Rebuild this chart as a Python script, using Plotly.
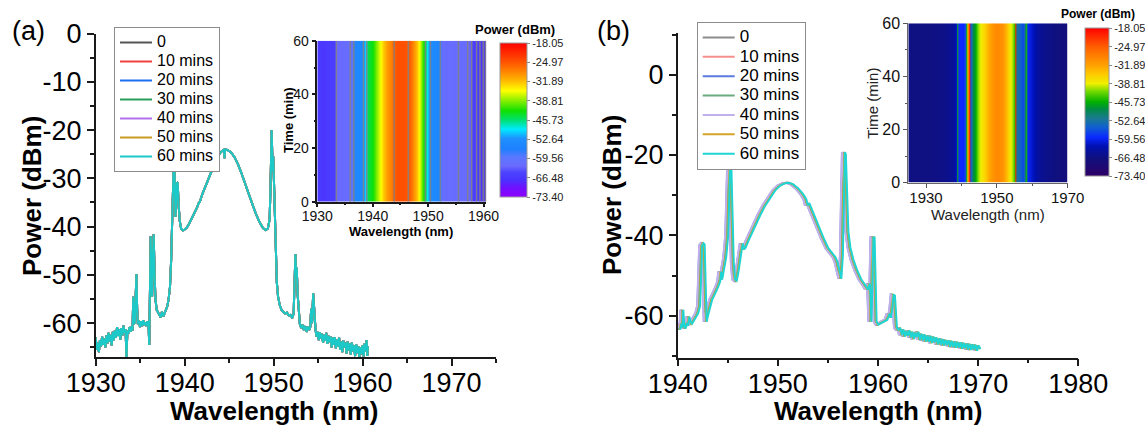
import plotly.graph_objects as go

W, H = 1145, 428
FONT = "Liberation Sans, Arial, sans-serif"

# ---------------- data ----------------
labels = ["0", "10 mins", "20 mins", "30 mins", "40 mins", "50 mins", "60 mins"]
colors_a = ["#555555", "#f04040", "#1a6ef0", "#2a9d5a", "#b070e8", "#c89a20", "#1cc8c8"]
colors_b = ["#8c8c8c", "#f4908c", "#5b7be0", "#6aab7e", "#c0b0ec", "#d4a528", "#1ed4d4"]
times = [0, 10, 20, 30, 40, 50, 60]

# panel (a) spectrum (all seven records overlap)
wl_a = [
    1930.00, 1930.12, 1930.24, 1930.36, 1930.48, 1930.60, 1930.72, 1930.84, 1930.96, 1931.08,
    1931.20, 1931.32, 1931.44, 1931.56, 1931.68, 1931.80, 1931.92, 1932.04, 1932.16, 1932.28,
    1932.40, 1932.52, 1932.64, 1932.76, 1932.88, 1933.00, 1933.12, 1933.24, 1933.36, 1933.46,
    1933.56, 1933.68, 1933.80, 1933.92, 1934.04, 1934.14, 1934.22, 1934.30, 1934.40, 1934.50,
    1934.58, 1934.66, 1934.74, 1934.86, 1934.98, 1935.10, 1935.22, 1935.34, 1935.46, 1935.58,
    1935.70, 1935.82, 1935.94, 1936.02, 1936.10, 1936.18, 1936.26, 1936.34, 1936.42, 1936.52,
    1936.62, 1936.72, 1936.85, 1937.00, 1937.15, 1937.30, 1937.45, 1937.60, 1937.75, 1937.90,
    1938.05, 1938.20, 1938.35, 1938.48, 1938.60, 1938.72, 1938.80, 1938.88, 1938.96, 1939.04,
    1939.14, 1939.22, 1939.32, 1939.45, 1939.60, 1939.80, 1940.00, 1940.25, 1940.50, 1940.80,
    1941.10, 1941.40, 1941.55, 1941.70, 1942.00, 1942.40, 1942.80, 1943.20, 1943.60, 1944.00,
    1944.30, 1944.42, 1944.48, 1944.55, 1944.80, 1945.20, 1945.60, 1946.00, 1946.40, 1946.80,
    1947.20, 1947.40, 1947.60, 1948.00, 1948.40, 1948.80, 1949.10, 1949.35, 1949.55, 1949.65,
    1949.72, 1949.78, 1949.84, 1949.90, 1949.96, 1950.04, 1950.14, 1950.24, 1950.36, 1950.50,
    1950.70, 1950.90, 1951.10, 1951.30, 1951.50, 1951.70, 1951.90, 1952.10, 1952.25, 1952.35,
    1952.45, 1952.52, 1952.60, 1952.70, 1952.82, 1952.95, 1953.10, 1953.25, 1953.40, 1953.55,
    1953.70, 1953.85, 1954.00, 1954.12, 1954.22, 1954.32, 1954.45, 1954.52, 1954.60, 1954.72,
    1954.84, 1954.96, 1955.08, 1955.20, 1955.32, 1955.44, 1955.56, 1955.68, 1955.80, 1955.92,
    1956.04, 1956.16, 1956.28, 1956.40, 1956.52, 1956.64, 1956.76, 1956.88, 1957.00, 1957.12,
    1957.24, 1957.36, 1957.48, 1957.60, 1957.72, 1957.84, 1957.96, 1958.08, 1958.20, 1958.32,
    1958.44, 1958.56, 1958.68, 1958.80, 1958.92, 1959.04, 1959.16, 1959.28, 1959.40, 1959.52,
    1959.64, 1959.76, 1959.88, 1960.00, 1960.12, 1960.24, 1960.36, 1960.46, 1960.54, 1960.60,
]
pw_a = [
    -63.0, -65.5, -64.0, -66.0, -63.5, -64.8, -62.8, -64.5, -63.2, -65.0,
    -62.5, -64.2, -62.0, -63.8, -62.4, -64.6, -61.8, -63.5, -61.5, -63.0,
    -60.8, -62.6, -61.2, -63.4, -61.0, -62.5, -60.5, -62.0, -61.2, -67.5,
    -61.5, -62.2, -60.8, -61.8, -60.6, -61.5, -54.5, -60.2, -59.8, -56.0,
    -49.8, -57.0, -60.2, -59.5, -60.8, -59.6, -60.6, -59.4, -60.4, -59.8,
    -60.6, -59.6, -60.2, -64.5, -55.0, -42.0, -50.0, -54.5, -47.0, -41.6,
    -50.0, -55.0, -57.2, -57.8, -58.3, -58.8, -57.6, -58.6, -57.9, -57.3,
    -56.5, -55.0, -52.5, -47.0, -38.0, -26.5, -25.0, -30.0, -38.0, -35.5,
    -30.8, -31.0, -35.5, -38.8, -40.4, -40.8, -40.6, -40.2, -39.4, -38.3,
    -37.2, -36.0, -35.2, -34.9, -33.2, -31.3, -29.3, -27.5, -25.9, -24.7,
    -24.1, -24.0, -25.8, -24.0, -24.1, -24.6, -25.6, -27.1, -29.0, -31.2,
    -33.4, -34.2, -35.3, -37.3, -39.0, -40.3, -40.7, -40.4, -38.5, -32.0,
    -24.0, -20.0, -24.5, -28.5, -25.5, -30.0, -38.0, -46.0, -51.5, -54.5,
    -56.3, -57.3, -57.6, -58.0, -57.8, -58.4, -58.3, -58.9, -58.0, -52.0,
    -45.7, -49.0, -48.5, -54.0, -58.5, -60.2, -61.0, -60.3, -61.4, -60.6,
    -61.8, -60.7, -61.4, -60.8, -57.0, -60.0, -53.8, -56.0, -58.4, -61.5,
    -62.8, -61.8, -63.5, -61.9, -63.2, -62.2, -64.0, -62.4, -63.6, -62.0,
    -64.3, -62.6, -63.9, -62.8, -65.0, -63.0, -64.5, -62.9, -65.2, -63.4,
    -64.8, -63.0, -65.5, -63.8, -66.0, -63.6, -65.0, -64.0, -66.3, -63.8,
    -65.6, -64.2, -66.5, -64.0, -65.8, -64.6, -66.8, -64.4, -66.2, -64.8,
    -67.0, -65.0, -66.4, -64.6, -66.9, -64.2, -65.8, -63.5, -66.8, -64.8,
]

# panel (b) spectrum of the first record, and the small drift of each record (nm)
wl_b = [
    1940.00, 1940.12, 1940.22, 1940.32, 1940.42, 1940.55, 1940.68, 1940.80, 1940.92, 1941.05,
    1941.20, 1941.40, 1941.60, 1941.80, 1942.00, 1942.12, 1942.20, 1942.35, 1942.45, 1942.55,
    1942.65, 1942.80, 1943.00, 1943.20, 1943.40, 1943.60, 1943.80, 1944.00, 1944.10, 1944.20,
    1944.40, 1944.60, 1944.80, 1944.92, 1945.00, 1945.06, 1945.14, 1945.24, 1945.36, 1945.50,
    1945.65, 1945.80, 1946.00, 1946.15, 1946.25, 1946.40, 1946.55, 1946.80, 1947.10, 1947.50,
    1948.00, 1948.50, 1949.00, 1949.50, 1950.00, 1950.50, 1950.90, 1951.30, 1951.80, 1952.30,
    1952.60, 1952.75, 1952.90, 1953.30, 1953.80, 1954.30, 1954.80, 1955.30, 1955.50, 1955.70,
    1955.90, 1956.10, 1956.25, 1956.35, 1956.45, 1956.55, 1956.65, 1956.80, 1957.00, 1957.30,
    1957.70, 1958.10, 1958.50, 1958.75, 1958.95, 1959.10, 1959.20, 1959.30, 1959.42, 1959.52,
    1959.62, 1959.80, 1960.10, 1960.40, 1960.70, 1960.90, 1961.05, 1961.20, 1961.32, 1961.45,
    1961.55, 1961.65, 1961.80, 1962.00, 1962.15, 1962.30, 1962.45, 1962.60, 1962.75, 1962.90,
    1963.05, 1963.20, 1963.35, 1963.50, 1963.65, 1963.80, 1963.95, 1964.10, 1964.25, 1964.40,
    1964.55, 1964.70, 1964.85, 1965.00, 1965.15, 1965.30, 1965.45, 1965.60, 1965.75, 1965.90,
    1966.05, 1966.20, 1966.35, 1966.50, 1966.65, 1966.80, 1966.95, 1967.10, 1967.25, 1967.40,
    1967.55, 1967.70, 1967.85, 1968.00, 1968.15, 1968.30, 1968.45, 1968.60, 1968.75, 1968.90,
    1969.05, 1969.20, 1969.35, 1969.50, 1969.65, 1969.80, 1970.00,
]
pw_b = [
    -63.5, -62.0, -63.0, -58.5, -62.5, -63.2, -61.8, -62.5, -60.2, -61.5,
    -62.0, -61.0, -60.3, -59.4, -57.5, -50.0, -42.5, -42.0, -42.3, -52.0,
    -61.5, -59.8, -57.6, -56.0, -55.0, -54.0, -52.8, -51.5, -49.0, -51.0,
    -48.5, -45.5, -40.0, -32.0, -22.0, -17.0, -25.0, -38.0, -47.0, -51.0,
    -51.3, -49.5, -46.5, -43.5, -42.0, -43.5, -43.0, -41.5, -39.8, -37.5,
    -35.0, -32.6, -30.6, -28.8, -27.6, -27.0, -26.9, -27.3, -28.3, -29.8,
    -31.0, -32.5, -32.0, -34.5, -37.5, -40.5, -43.2, -45.0, -45.4, -46.5,
    -48.5, -50.8, -45.0, -30.0, -19.3, -19.8, -30.0, -39.0, -43.0, -46.0,
    -48.8, -51.0, -52.4, -53.5, -52.0, -61.5, -52.0, -40.5, -40.5, -52.0,
    -61.5, -62.2, -61.8, -61.5, -61.0, -59.5, -60.5, -58.0, -54.8, -55.0,
    -60.0, -63.0, -63.5, -63.2, -64.8, -63.4, -65.2, -63.8, -65.0, -63.6,
    -65.4, -64.0, -65.8, -64.2, -65.3, -64.0, -66.0, -64.5, -66.1, -64.6,
    -66.4, -64.9, -66.5, -65.0, -66.8, -65.2, -66.6, -65.4, -67.1, -65.6,
    -67.2, -65.8, -67.4, -66.0, -67.3, -66.1, -67.7, -66.2, -67.8, -66.4,
    -68.0, -66.5, -67.9, -66.6, -68.2, -66.7, -68.1, -66.9, -68.4, -67.0,
    -68.5, -67.1, -68.4, -67.2, -68.7, -67.4, -68.3,
]
drift_b = [0.0, 0.06, -0.04, 0.10, -0.06, 0.18, 0.24]

# inset (a): power map profile (same for every time row)
ins_a_wl = [1930.0, 1931.0, 1932.0, 1933.0, 1933.45, 1934.5, 1935.5, 1936.2, 1936.6, 1937.5,
            1938.3, 1938.7, 1939.2, 1940.0, 1940.6, 1941.3, 1942.0, 1942.6, 1943.3, 1943.8,
            1944.6, 1945.6, 1946.6, 1947.2, 1947.8, 1948.4, 1949.0, 1949.5, 1949.9, 1950.3,
            1951.2, 1952.1, 1952.5, 1953.5, 1954.5, 1955.5, 1956.5, 1957.5, 1958.1, 1959.0,
            1959.8, 1960.5]
ins_a_pw = [-66.0, -66.5, -65.8, -65.5, -62.3, -62.0, -61.6, -61.0, -54.5, -54.0,
            -53.5, -49.5, -44.0, -43.0, -39.0, -35.5, -32.5, -29.5, -28.0, -25.5,
            -24.6, -24.6, -25.5, -28.0, -31.5, -35.5, -40.5, -45.0, -49.0, -53.5,
            -54.0, -55.0, -61.5, -62.0, -61.8, -61.5, -62.0, -62.5, -65.5, -66.0,
            -67.0, -68.0]
ins_a_contours = [1933.45, 1935.95, 1936.6, 1938.33, 1938.93, 1943.87, 1946.43, 1949.52,
                  1950.42, 1952.2, 1955.48, 1957.14, 1957.86, 1958.75, 1959.35, 1959.94, 1960.35]

# inset (b): power map profile
ins_b_wl = [1925.0, 1930.0, 1935.0, 1937.8, 1938.6, 1938.9, 1939.2, 1940.5, 1941.2, 1941.7,
            1942.2, 1942.6, 1943.2, 1943.8, 1944.6, 1945.4, 1946.5, 1947.6, 1949.0, 1950.2,
            1951.5, 1952.8, 1953.6, 1954.3, 1954.8, 1955.1, 1955.5, 1956.5, 1957.6, 1958.2,
            1958.6, 1960.0, 1962.3, 1966.0, 1970.0]
ins_b_pw = [-66.5, -66.5, -66.0, -64.5, -61.0, -45.0, -59.0, -59.0, -56.0, -34.0,
            -20.0, -56.0, -50.0, -46.0, -42.0, -38.5, -36.5, -33.0, -30.5, -29.5,
            -30.5, -34.0, -37.5, -40.5, -44.0, -20.0, -52.0, -55.0, -57.0, -45.0,
            -59.0, -61.5, -65.0, -66.5, -67.5]

cbar_ticks = [-18.05, -24.97, -31.89, -38.81, -45.73, -52.64, -59.56, -66.48, -73.40]
zmin, zmax = -73.40, -18.05

main_a_yticks = [-60, -50, -40, -30, -20, -10, 0]
main_b_yticks = [-60, -40, -20, 0]

cs_a = [[0.00, "#8f00ff"], [0.06, "#7010ff"], [0.11, "#4a32ff"], [0.16, "#4c44ff"],
        [0.20, "#6a6aff"], [0.26, "#5a78ff"], [0.31, "#1e80ff"], [0.38, "#1e90ff"],
        [0.44, "#00eaff"], [0.50, "#00e070"], [0.56, "#10e000"], [0.63, "#90f000"],
        [0.69, "#ffff00"], [0.76, "#ffb400"], [0.82, "#ff8000"], [0.88, "#ff5000"],
        [1.00, "#ff0000"]]
cs_b = [[0.00, "#2e0066"], [0.12, "#10107e"], [0.20, "#0010b0"], [0.26, "#0a28ff"],
        [0.33, "#1060d0"], [0.39, "#1a7a90"], [0.45, "#008c45"], [0.50, "#00b000"],
        [0.57, "#70d800"], [0.625, "#f0f000"], [0.69, "#ffc800"], [0.75, "#ffa000"],
        [0.87, "#ff6000"], [1.00, "#ff0000"]]

assert len(wl_a) == len(pw_a) and len(wl_b) == len(pw_b)
assert len(ins_a_wl) == len(ins_a_pw) and len(ins_b_wl) == len(ins_b_pw)


def px(x):
    return x / W


def py(y):
    return 1 - y / H


def hyph(vals):
    return [str(v) for v in vals]


fig = go.Figure()

# main curves (a)
for lab, col in zip(labels, colors_a):
    fig.add_trace(go.Scatter(
        x=wl_a, y=pw_a, mode="lines", line=dict(color=col, width=2),
        name=f'<span style="font-size:16px">{lab}</span>',
        legend="legend", xaxis="x", yaxis="y", hoverinfo="skip"))

# main curves (b)
for lab, col, d in zip(labels, colors_b, drift_b):
    fig.add_trace(go.Scatter(
        x=[w + d for w in wl_b], y=pw_b, mode="lines", line=dict(color=col, width=2),
        name=f'<span style="font-size:17px">{lab}</span>',
        legend="legend2", xaxis="x2", yaxis="y2", hoverinfo="skip"))

cb_common = dict(
    tickvals=cbar_ticks, ticktext=[f"{v:.2f}" for v in cbar_ticks],
    tickfont=dict(size=11, family=FONT, color="#222"), ticks="outside", ticklen=3,
    tickcolor="#888", outlinewidth=1, outlinecolor="#9a9a9a",
    xanchor="left", yanchor="top", lenmode="fraction", thicknessmode="pixels",
    xpad=0, ypad=0)

# inset heatmap (a)
fig.add_trace(go.Heatmap(
    x=ins_a_wl, y=times, z=[ins_a_pw for _ in times], zmin=zmin, zmax=zmax,
    colorscale=cs_a, zsmooth="best", xaxis="x3", yaxis="y3", hoverinfo="skip",
    colorbar=dict(x=px(500), y=py(43), len=(197 - 43) / H, thickness=27, **cb_common)))

cx, cy = [], []
for w in ins_a_contours:
    cx += [w, w, None]
    cy += [times[0], times[-1], None]
fig.add_trace(go.Scatter(x=cx, y=cy, mode="lines", line=dict(color="rgba(130,130,130,0.85)", width=1.5),
                         showlegend=False, xaxis="x3", yaxis="y3", hoverinfo="skip"))

# inset heatmap (b)
fig.add_trace(go.Heatmap(
    x=ins_b_wl, y=times, z=[ins_b_pw for _ in times], zmin=zmin, zmax=zmax,
    colorscale=cs_b, zsmooth="best", xaxis="x4", yaxis="y4", hoverinfo="skip",
    colorbar=dict(x=px(1085), y=py(28.3), len=(176 - 28.3) / H, thickness=24, **cb_common)))

axis_common = dict(showgrid=False, zeroline=False, showline=True, linecolor="#1a1a1a",
                   linewidth=1.5, ticks="outside", tickcolor="#1a1a1a", tickwidth=1.5)

main_font = dict(size=27, family=FONT, color="black")

fig.update_layout(
    width=W, height=H, margin=dict(l=0, r=0, t=0, b=0, autoexpand=False),
    paper_bgcolor="white", plot_bgcolor="rgba(0,0,0,0)",
    font=dict(family=FONT, color="black"),
    xaxis=dict(domain=[px(95.7), px(496)], range=[1930, 1975], tickvals=[1930, 1940, 1950, 1960, 1970],
               ticklen=7, tickfont=main_font, anchor="y", ticklabelstandoff=-6,
               minor=dict(ticks="outside", ticklen=4, dtick=5, tick0=1930, tickcolor="#1a1a1a", tickwidth=1.5),
               **axis_common),
    yaxis=dict(domain=[py(357), py(33.5)], range=[-67, 0], tickvals=main_a_yticks,
               ticktext=hyph(main_a_yticks),
               ticklen=7, tickfont=main_font, anchor="x",
               minor=dict(ticks="outside", ticklen=4, dtick=5, tick0=0, tickcolor="#1a1a1a", tickwidth=1.5),
               **axis_common),
    xaxis2=dict(domain=[px(677.7), px(1078.3)], range=[1940, 1980], tickvals=[1940, 1950, 1960, 1970, 1980],
                ticklen=7, tickfont=main_font, anchor="y2", ticklabelstandoff=-6,
                minor=dict(ticks="outside", ticklen=4, dtick=5, tick0=1940, tickcolor="#1a1a1a", tickwidth=1.5),
                **axis_common),
    yaxis2=dict(domain=[py(357.5), py(33.3)], range=[-70.4, 10.3], tickvals=main_b_yticks,
                ticktext=hyph(main_b_yticks),
                ticklen=7, tickfont=main_font, anchor="x2",
                minor=dict(ticks="outside", ticklen=4, dtick=10, tick0=0, tickcolor="#1a1a1a", tickwidth=1.5),
                **axis_common),
    xaxis3=dict(domain=[px(317.3), px(486.3)], range=[1930, 1960.5], tickvals=[1930, 1940, 1950, 1960],
                ticklen=4, tickfont=dict(size=14, family=FONT, color="#111"), anchor="y3",
                ticklabelstandoff=-3,
                minor=dict(ticks="outside", ticklen=2, dtick=5, tick0=1930, tickcolor="#1a1a1a"),
                **axis_common),
    yaxis3=dict(domain=[py(201.7), py(40.7)], range=[0, 60], tickvals=[0, 20, 40, 60],
                ticklen=4, tickfont=dict(size=14, family=FONT, color="#111"), anchor="x3",
                minor=dict(ticks="outside", ticklen=2, dtick=10, tick0=0, tickcolor="#1a1a1a"),
                **axis_common),
    xaxis4=dict(domain=[px(908.3), px(1067.7)], range=[1925, 1970], tickvals=[1930, 1950, 1970],
                ticklen=4, tickfont=dict(size=15, family=FONT, color="#111"), anchor="y4",
                ticklabelstandoff=-3,
                minor=dict(ticks="outside", ticklen=2, tickvals=[1940, 1960], tickcolor="#555"),
                showgrid=False, zeroline=False, showline=True, linecolor="#666", linewidth=1,
                ticks="outside", tickcolor="#555", tickwidth=1),
    yaxis4=dict(domain=[py(182.7), py(23.3)], range=[0, 60], tickvals=[0, 20, 40, 60],
                ticklen=4, tickfont=dict(size=16, family=FONT, color="#111"), anchor="x4",
                minor=dict(ticks="outside", ticklen=2, dtick=10, tick0=0, tickcolor="#555"),
                showgrid=False, zeroline=False, showline=True, linecolor="#666", linewidth=1,
                ticks="outside", tickcolor="#555", tickwidth=1),
    legend=dict(x=px(114), y=py(27), xanchor="left", yanchor="top", bgcolor="white",
                bordercolor="#8c8c8c", borderwidth=1, itemwidth=32, tracegroupgap=0,
                font=dict(size=11.3, family=FONT, color="black")),
    legend2=dict(x=px(696.7), y=py(21.7), xanchor="left", yanchor="top", bgcolor="white",
                 bordercolor="#8c8c8c", borderwidth=1, itemwidth=32, tracegroupgap=0,
                 font=dict(size=12.6, family=FONT, color="black")),
)


def note(text, x, y, size, bold=False, angle=0, color="black"):
    t = f"<b>{text}</b>" if bold else text
    fig.add_annotation(text=t, x=px(x), y=py(y), xref="paper", yref="paper",
                       xanchor="center", yanchor="middle", showarrow=False, textangle=angle,
                       font=dict(size=size, family=FONT, color=color))


note("(a)", 28, 31, 27)
note("(b)", 613, 31, 27)
note("Wavelength (nm)", 274, 411, 26, bold=True)
note("Wavelength (nm)", 878, 411, 26, bold=True)
note("Power (dBm)", 32, 196, 26, bold=True, angle=-90)
note("Power (dBm)", 612, 195, 26, bold=True, angle=-90)
note("Time (min)", 288, 120, 13, bold=True, angle=-90)
note("Wavelength (nm)", 401.5, 232, 13, bold=True)
note("Time (min)", 871.7, 103, 15, angle=-90, color="#222")
note("Wavelength (nm)", 988, 214, 15, color="#222")
note("Power (dBm)", 515, 29, 13, bold=True)
note("Power (dBm)", 1098, 14, 12, bold=True)

fig.write_html("out.html")
